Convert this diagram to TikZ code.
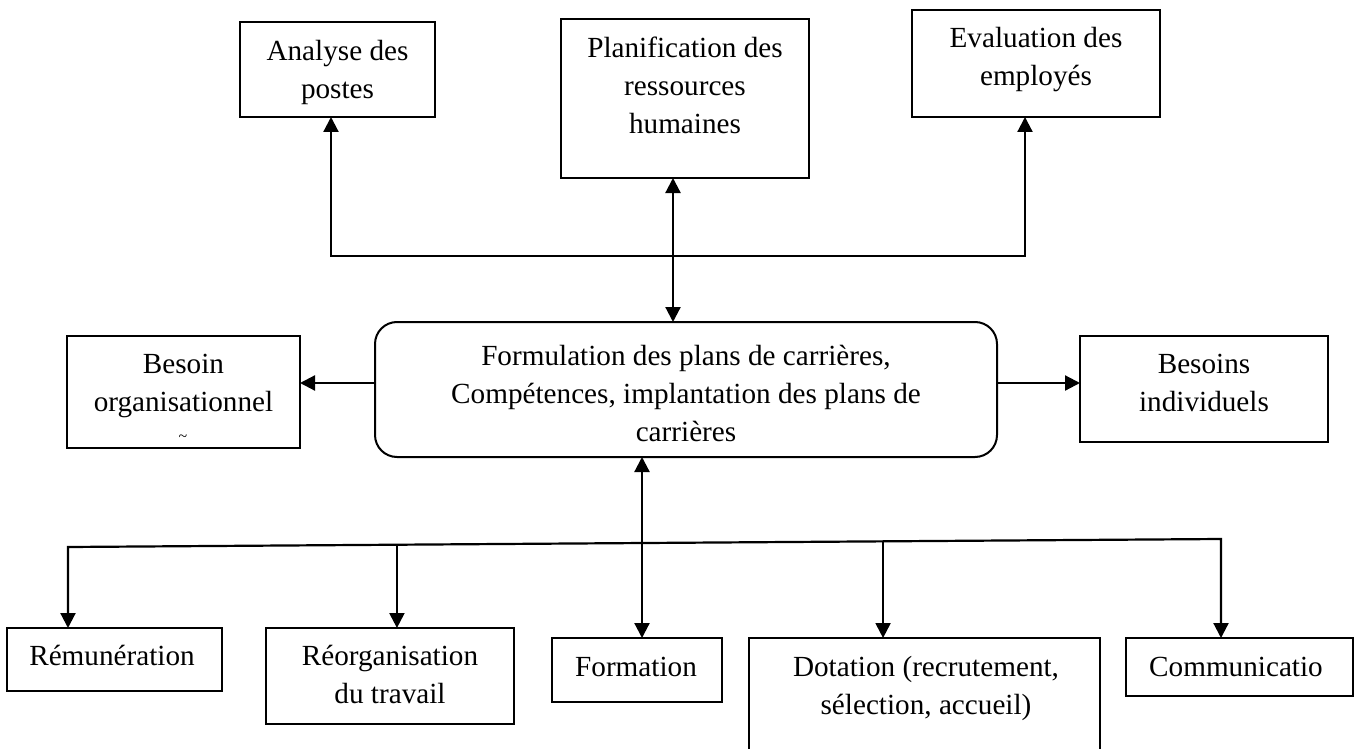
\documentclass[tikz,border=0pt]{standalone}
\usepackage{fontspec}
\setmainfont{Liberation Serif}
\usetikzlibrary{arrows.meta,calc}
\begin{document}
\begin{tikzpicture}[x=0.5pt,y=-0.5pt,
  box/.style={draw,line width=1pt,inner sep=0pt,outer sep=0pt},
  lbl/.style={anchor=north,inner sep=0pt,align=center,font=\fontsize{14.6pt}{19pt}\selectfont},
  arr/.style={line width=1.1pt,-{Triangle[length=7.5pt,width=7.5pt]}},
  darr/.style={line width=1.1pt,{Triangle[length=7.5pt,width=7.5pt]}-{Triangle[length=7.5pt,width=7.5pt]}}]
\fill[white] (0,0) rectangle (1360,749);
\useasboundingbox (0,0) rectangle (1360,749);
\clip (0,0) rectangle (1360,749);

% boxes
\node[box,minimum width=97.5pt,minimum height=47.5pt] (ana) at (337.5,69.5) {};
\node[box,minimum width=124pt,minimum height=79.5pt] (pla) at (685,98.5) {};
\node[box,minimum width=124pt,minimum height=53.5pt] (eva) at (1036,63.5) {};
\node[box,rounded corners=11pt,minimum width=311pt,minimum height=67.5pt] (form) at (686,389.5) {};
\node[box,minimum width=116.5pt,minimum height=56pt] (borg) at (183.5,392) {};
\node[box,minimum width=124pt,minimum height=53pt] (bind) at (1204,389) {};
\node[box,minimum width=107.5pt,minimum height=31.5pt] (rem) at (114.5,659.5) {};
\node[box,minimum width=124pt,minimum height=48pt] (reo) at (390,676) {};
\node[box,minimum width=85pt,minimum height=32pt] (fmt) at (637,670) {};
\node[box,minimum width=175.5pt,minimum height=71pt] (dot) at (924.5,709) {};
\node[box,minimum width=113.5pt,minimum height=29pt] (com) at (1239.5,667) {};

% texts
\node[lbl] (anaT) at (337.5,33.4) {\strut Analyse des\\postes};
\node[lbl] (plaT) at (685,30.4) {\strut Planification des\\ressources\\humaines};
\node[lbl] (evaT) at (1036,20.4) {\strut Evaluation des\\employés};
\node[lbl] (formT) at (686,338.4) {\strut Formulation des plans de carrières,\\Compétences, implantation des plans de\\carrières};
\node[lbl] (borgT) at (183.5,346.4) {\strut Besoin\\organisationnel};
\node[inner sep=0pt,font=\fontsize{8pt}{8pt}\selectfont] (tld) at (183,438) {\textasciitilde};
\node[lbl] (bindT) at (1204,346.4) {\strut Besoins\\individuels};
\node[lbl] (remT) at (112,638.4) {\strut Rémunération};
\node[lbl] (reoT) at (390,638.4) {\strut Réorganisation\\du travail};
\node[lbl] (fmtT) at (636,649.4) {\strut Formation};
\node[lbl] (dotT) at (926,649.4) {\strut Dotation (recrutement,\\sélection, accueil)};
\node[lbl] (comT) at (1236,649.4) {\strut Communicatio};

% junctions
\coordinate (jt) at (673,256);
\coordinate (ja) at (331,256);
\coordinate (je) at (1025,256);
\coordinate (jl) at (0,383);
\coordinate (jf) at (642,0);
\coordinate (b1) at (68,547);
\coordinate (b2) at (1221,539);
\coordinate (br) at ($(b1)!0.2853!(b2)$);
\coordinate (bd) at ($(b1)!0.7069!(b2)$);

% connectors
\draw[darr] (pla.south -| jt) -- (form.north -| jt);
\draw[arr] (jt) -| (ana.south -| ja);
\draw[arr] (jt) -| (eva.south -| je);
\draw[arr] (form.west |- jl) -- (borg.east |- jl);
\draw[arr] (form.east |- jl) -- (bind.west |- jl);
\draw[darr] (form.south -| jf) -- (fmt.north -| jf);
\draw[darr] (rem.north -| b1) -- (b1) -- (b2) -- (com.north -| b2);
\draw[arr] (br) -- (reo.north -| br);
\draw[arr] (bd) -- (dot.north -| bd);
\end{tikzpicture}
\end{document}
